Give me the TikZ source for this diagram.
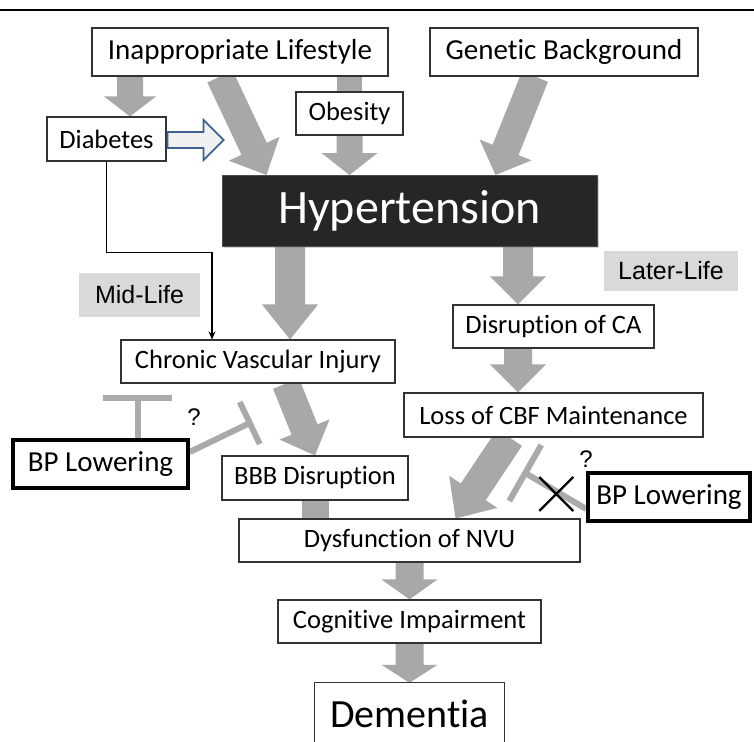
\documentclass[tikz,border=0pt]{standalone}
\usepackage{fontspec}
\setmainfont{Carlito}[Ligatures={NoCommon,NoContextual}]
\newfontfamily\arialf{Liberation Sans}
\usetikzlibrary{calc,backgrounds,shadows,arrows.meta}
\definecolor{arrowgray}{RGB}{168,168,168}
\definecolor{tgray}{RGB}{170,170,170}
\definecolor{labgray}{RGB}{217,217,217}
\definecolor{boxline}{RGB}{50,50,50}
\definecolor{bluel}{RGB}{60,97,145}
\definecolor{bluefill}{RGB}{240,240,240}
\definecolor{hyperfill}{RGB}{38,38,38}
\newcommand{\blockarr}[5]{%
  \coordinate (bs) at (#1);
  \coordinate (be) at (#2);
  \coordinate (bh) at ($(be)!#5!(bs)$);
  \fill[arrowgray] ($(bs)!#3!90:(be)$) -- ($(bh)!#3!90:(be)$) -- ($(bh)!#4!90:(be)$) -- (be) -- ($(bh)!#4!-90:(be)$) -- ($(bh)!#3!-90:(be)$) -- ($(bs)!#3!-90:(be)$) -- cycle;}
\begin{document}
\begin{tikzpicture}[x=1pt,y=-1pt,
  box/.style={draw=boxline, line width=1.1pt, fill=white, inner sep=0pt,
    font=\fontsize{26.5}{30}\selectfont,
    drop shadow={shadow xshift=1.2pt, shadow yshift=-1.2pt, opacity=0.35}},
  bpbox/.style={draw=black, line width=3.5pt, fill=white, inner sep=0pt,
    font=\fontsize{29}{33}\selectfont},
  hyperbox/.style={draw=black!70, line width=1pt, fill=hyperfill, text=white, inner sep=0pt,
    font=\fontsize{48}{54}\selectfont,
    drop shadow={shadow xshift=1.5pt, shadow yshift=-1.5pt, opacity=0.35}},
  lifelab/.style={fill=labgray, draw=none, inner sep=0pt, font=\arialf\fontsize{25}{29}\selectfont},
  qmark/.style={inner sep=0pt, font=\arialf\fontsize{24}{28}\selectfont},
  tbar/.style={draw=tgray, line width=6pt},
  stub/.style={draw=arrowgray, line width=#1},
  thinarrow/.style={draw=black, line width=1.5pt, -{Stealth[length=8pt,width=7pt]}},
  bluearrow/.style={draw=bluel, line width=1.8pt, fill=bluefill, line join=miter},
  xmark/.style={draw=black, line width=2.2pt}
]
\useasboundingbox (0,0) rectangle (754,741);
\draw[line width=1.5pt] (0,10) -- (754,10);

\node[box, font=\fontsize{29}{33}\selectfont, minimum width=296pt, minimum height=48pt] (life) at (240,52) {Inappropriate Lifestyle};
\node[box, font=\fontsize{29}{33}\selectfont, minimum width=268pt, minimum height=48pt] (gen) at (564,52) {Genetic Background};
\node[box, minimum width=119pt, minimum height=44pt] (dia) at (106.5,139) {Diabetes};
\node[box, minimum width=107pt, minimum height=43pt] (ob) at (349.5,113.5) {Obesity};
\node[hyperbox, minimum width=375pt, minimum height=71pt] (hyp) at (409.5,211) {Hypertension};
\node[lifelab, minimum width=134pt, minimum height=40pt] (later) at (671,271) {Later-Life};
\node[lifelab, minimum width=121pt, minimum height=44pt] (mid) at (139.5,295) {Mid-Life};
\node[box, minimum width=274pt, minimum height=43pt] (cvi) at (258,361.5) {Chronic Vascular Injury};
\node[box, minimum width=201pt, minimum height=43pt] (ca) at (553.5,326.5) {Disruption of CA};
\node[box, minimum width=299pt, minimum height=44pt] (cbf) at (553.5,415) {Loss of CBF Maintenance};
\node[bpbox, minimum width=175pt, minimum height=48pt] (bpl) at (100.5,464) {BP Lowering};
\node[box, minimum width=186pt, minimum height=44pt] (bbb) at (315,478) {BBB Disruption};
\node[bpbox, minimum width=162pt, minimum height=48pt] (bpr) at (669,497) {BP Lowering};
\node[box, minimum width=341pt, minimum height=43pt] (nvu) at (409.5,540.5) {Dysfunction of NVU};
\node[box, minimum width=263pt, minimum height=43pt] (cog) at (409.5,621.5) {Cognitive Impairment};
\node[fill=white, inner sep=0pt, font=\fontsize{40}{46}\selectfont, minimum width=189pt, minimum height=62pt] (dem) at (409.5,714) {Dementia};
\draw[boxline, line width=1.1pt] (dem.south west) -- (dem.north west) -- (dem.north east) -- (dem.south east);

\node[qmark] (ql) at (194,417) {?};
\node[qmark] (qr) at (586,459) {?};

\begin{scope}[on background layer]
  \blockarr{[xshift=23.5pt]dia.north |- life.south}{[xshift=23.5pt]dia.north}{13pt}{26pt}{20pt}
  \blockarr{[xshift=-20pt]life.south}{[xshift=-143pt]hyp.north}{14pt}{28pt}{29pt}
  \draw[stub=25pt] (ob.north |- life.south) -- (ob.north);
  \blockarr{ob.south}{ob.south |- hyp.north}{13pt}{28pt}{22pt}
  \blockarr{[xshift=-29pt]gen.south}{[xshift=86pt]hyp.north}{14pt}{28pt}{27pt}
  \blockarr{[xshift=32pt]cvi.north |- hyp.south}{[xshift=32pt]cvi.north}{15pt}{28pt}{35pt}
  \blockarr{[xshift=-35.5pt]ca.north |- hyp.south}{[xshift=-35.5pt]ca.north}{15pt}{28pt}{28pt}
  \blockarr{[xshift=-35.5pt]ca.south}{[xshift=-35.5pt]ca.south |- cbf.north}{14pt}{28pt}{28pt}
  \blockarr{[xshift=28pt]cvi.south}{bbb.north}{14pt}{27pt}{28pt}
  \blockarr{[xshift=-44pt]cbf.south}{[xshift=46pt]nvu.north}{15pt}{29pt}{32pt}
  \draw[stub=27pt] (bbb.south) -- (bbb.south |- nvu.north);
  \blockarr{nvu.south}{cog.north}{14pt}{28pt}{20pt}
  \blockarr{cog.south}{dem.north}{14pt}{28pt}{18pt}
  % inhibition bars
  \draw[tbar] ([xshift=37pt]bpl.north) -- ++(0,-40) coordinate (tv);
  \draw[tbar] (tv) ++(-35,0) -- ++(69,0);
  \draw[tbar] ([yshift=12pt]bpl.east) -- ++(60,-29) coordinate (tl);
  \draw[tbar] (tl) ++(-10,-21) -- ++(20,42);
  \draw[tbar] ([yshift=-12pt]bpr.west) -- ++(-61,-36) coordinate (tr);
  \draw[tbar] (tr) ++(16,-28) -- ++(-32,56);
\end{scope}

% diabetes -> hypertension (hollow blue arrow)
\coordinate (bl) at ([yshift=-1pt]dia.east);
\draw[bluearrow] (bl) ++(1,-8) -- ++(36,0) -- ++(0,-12) -- ++(20,20) -- ++(-20,20) -- ++(0,-12) -- ++(-36,0) -- cycle;

% diabetes -> chronic vascular injury
\draw[thinarrow] (dia.south) -- ++(0,91) -| ([xshift=-46pt]cvi.north);

% cross on the right inhibition
\coordinate (xc) at ([xshift=-30pt,yshift=3pt]bpr.west);
\draw[xmark] (xc) ++(-17,-17) -- ++(34,34);
\draw[xmark] (xc) ++(-17,17) -- ++(34,-34);
\end{tikzpicture}
\end{document}
